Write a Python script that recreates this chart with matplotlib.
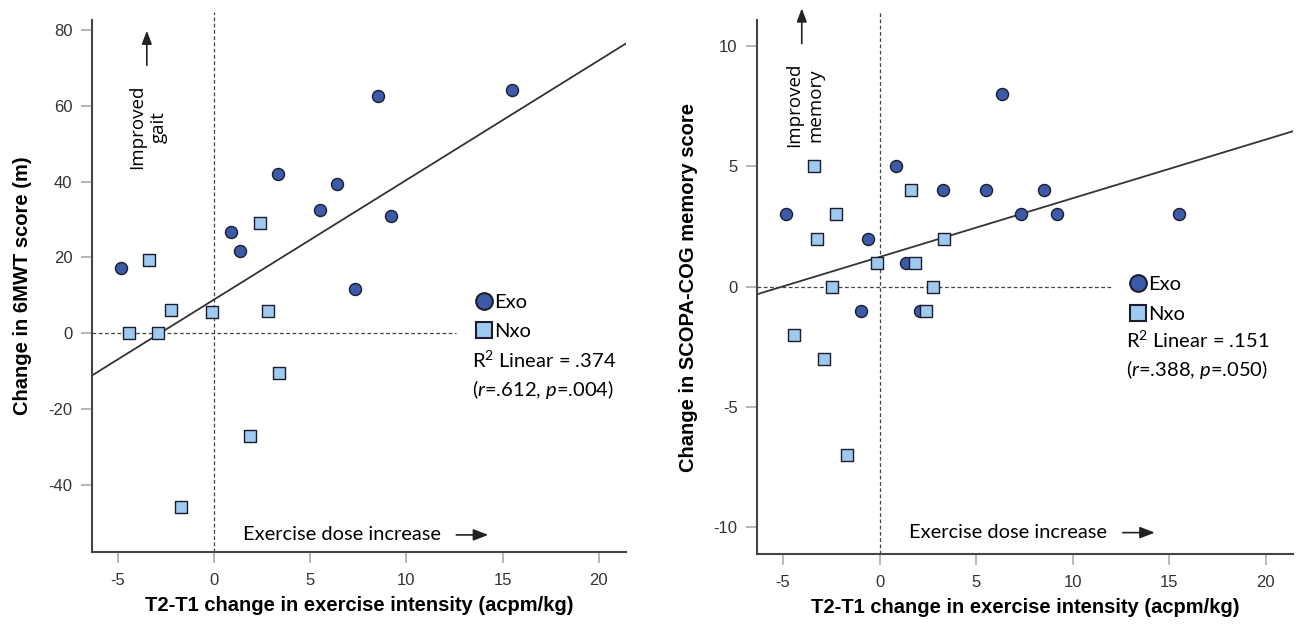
import numpy as np
import matplotlib
matplotlib.use("Agg")
import matplotlib.pyplot as plt
from matplotlib.lines import Line2D

plt.rcParams['font.family'] = ['Liberation Sans', 'DejaVu Sans']
plt.rcParams['mathtext.fontset'] = 'custom'
plt.rcParams['mathtext.rm'] = 'Lato'
plt.rcParams['mathtext.it'] = 'Lato:italic'
plt.rcParams['axes.unicode_minus'] = False

# ---- data: left panel (6MWT) ----
gait_exo_x = [-4.84, 0.90, 1.33, 3.33, 5.50, 6.37, 8.50, 9.20, 7.33, 15.50]
gait_exo_y = [17.3, 26.7, 21.7, 42.1, 32.4, 39.4, 62.5, 31.0, 11.7, 64.1]
gait_nxo_x = [-3.38, -2.26, -0.13, 2.41, 2.80, -4.45, -2.90, 3.35, 1.87, -1.72]
gait_nxo_y = [19.4, 6.2, 5.5, 29.0, 6.0, 0.0, 0.0, -10.4, -27.0, -45.8]

# ---- data: right panel (SCOPA-COG memory) ----
mem_exo_x = [-4.87, -0.62, 0.85, 1.35, 3.30, 5.50, 6.35, 7.35, 8.50, 9.20, 15.50, -0.98, 2.10]
mem_exo_y = [3, 2, 5, 1, 4, 4, 8, 3, 4, 3, 3, -1, -1]
mem_nxo_x = [-3.38, -2.24, -3.25, -0.15, 1.65, 1.86, 3.35, -2.46, 2.78, 2.41, -4.44, -2.88, -1.71]
mem_nxo_y = [5, 3, 2, 1, 4, 1, 2, 0, 0, -1, -2, -3, -7]

gait_ticks = [-40, -20, 0, 20, 40, 60, 80]
mem_ticks = [-10, -5, 0, 5, 10]
x_ticks = [-5, 0, 5, 10, 15, 20]

exo_col = '#3b5ba8'
nxo_col = '#9ecaf0'
edge_col = '#1c1c2c'
tick_font = ['Liberation Sans Narrow', 'Liberation Sans', 'DejaVu Sans']
note_font = ['Lato', 'DejaVu Sans']
vert_font = ['Open Sans', 'DejaVu Sans']

fig = plt.figure(figsize=(12.98, 6.33), dpi=100)
ax1 = fig.add_axes([0.0709, 0.128, 0.4114, 0.840])
ax2 = fig.add_axes([0.5832, 0.1248, 0.413, 0.8436])


def draw_panel(ax, ex_x, ex_y, nx_x, nx_y, ylim, yticks, ylabel, improved, stats,
               zero_end, leg_xy, arrow_y, dose_y, stats_dy):
    ax.set_xlim(-6.35, 21.42)
    ax.set_ylim(*ylim)
    for s in ['top', 'right']:
        ax.spines[s].set_visible(False)
    for s in ['left', 'bottom']:
        ax.spines[s].set_color('#444444')
        ax.spines[s].set_linewidth(1.5)
    ax.set_xticks(x_ticks)
    ax.set_yticks(yticks)
    ax.tick_params(length=8, width=1.2, color='#aaaaaa', labelcolor='#333333',
                   labelsize=12, pad=6)
    ax.tick_params(axis='x', pad=7)
    for lab in ax.get_xticklabels() + ax.get_yticklabels():
        lab.set_family(tick_font)

    # reference lines
    ax.axvline(0, ymin=0, ymax=1.015, color='#444444', lw=0.9, ls=(0, (3, 2)), clip_on=False)
    ax.hlines(0, ax.get_xlim()[0], zero_end, color='#444444', lw=0.9, ls=(0, (3, 2)))

    # linear fit
    allx = np.array(ex_x + nx_x)
    ally = np.array(ex_y + nx_y)
    b, a = np.polyfit(allx, ally, 1)
    xs = np.array(ax.get_xlim())
    ax.plot(xs, a + b * xs, color='#333333', lw=1.3, zorder=2)

    ax.scatter(ex_x, ex_y, s=75, marker='o', color=exo_col, edgecolor=edge_col, lw=1, zorder=3)
    ax.scatter(nx_x, nx_y, s=70, marker='s', color=nxo_col, edgecolor=edge_col, lw=1, zorder=3)

    ax.set_ylabel(ylabel, fontsize=14.5, fontweight='bold')
    ax.set_xlabel('T2-T1 change in exercise intensity (acpm/kg)', fontsize=14.5,
                  fontweight='bold', labelpad=6)

    # "Improved" annotation with arrow
    ax.text(improved[0], improved[1], improved[2], rotation=90, ha='center', va='center',
            multialignment='center', fontsize=13.5, family=vert_font, linespacing=1.25)
    ax.annotate('', xy=(arrow_y[0], arrow_y[2]), xytext=(arrow_y[0], arrow_y[1]),
                arrowprops=dict(arrowstyle='-|>,head_length=0.8,head_width=0.3',
                                color='#222222', lw=1.2), annotation_clip=False)

    # "Exercise dose increase" annotation with arrow
    ax.text(1.5, dose_y, 'Exercise dose increase', ha='left', va='center',
            fontsize=14.4, family=note_font)
    ax.annotate('', xy=(14.4, dose_y), xytext=(12.45, dose_y),
                arrowprops=dict(arrowstyle='-|>,head_length=0.9,head_width=0.35',
                                color='#222222', lw=1.2))

    # legend and fit statistics
    handles = [Line2D([], [], ls='', marker='o', ms=12, mfc=exo_col, mec=edge_col, mew=1.5),
               Line2D([], [], ls='', marker='s', ms=12, mfc=nxo_col, mec=edge_col, mew=1.5)]
    ax.legend(handles, ['Exo', 'Nxo'], loc='upper left', bbox_to_anchor=leg_xy,
              frameon=False, borderpad=0, borderaxespad=0, handlelength=0.9,
              handletextpad=0.05, labelspacing=0.6, prop={'family': note_font, 'size': 14.5})
    ax.text(leg_xy[0] - 0.006, leg_xy[1] - stats_dy, stats, transform=ax.transAxes,
            ha='left', va='top', fontsize=14.5, family=note_font, linespacing=1.4)


draw_panel(ax1, gait_exo_x, gait_exo_y, gait_nxo_x, gait_nxo_y, (-57.6, 82.5), gait_ticks,
           'Change in 6MWT score (m)', (-3.45, 54.3, 'Improved\ngait'),
           'R$^2$ Linear = .374\n($r$=.612, $p$=.004)', 12.6, (0.717, 0.486),
           (-3.5, 69.9, 80.5), -53.1, 0.105)
draw_panel(ax2, mem_exo_x, mem_exo_y, mem_nxo_x, mem_nxo_y, (-11.14, 11.1), mem_ticks,
           'Change in SCOPA-COG memory score', (-3.87, 7.56, 'Improved\nmemory'),
           'R$^2$ Linear = .151\n($r$=.388, $p$=.050)', 12.1, (0.694, 0.52),
           (-4.03, 10.0, 11.7), -10.25, 0.1)

ax1.yaxis.set_label_coords(-0.112, 0.5)
ax2.yaxis.set_label_coords(-0.11, 0.5)

fig.savefig('out.png', dpi=100)
